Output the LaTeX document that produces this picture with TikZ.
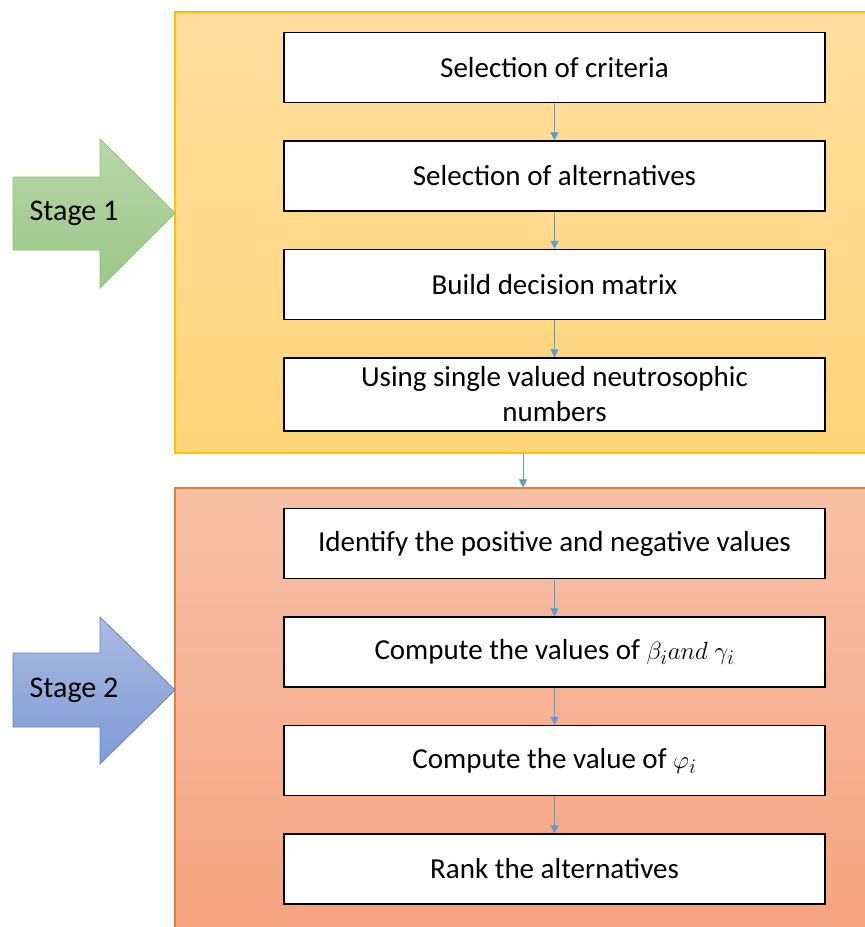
\documentclass[tikz,border=0pt]{standalone}
\usepackage{fontspec}
\setmainfont{Carlito}
\usepackage{tikz}
\usetikzlibrary{arrows.meta}
\usetikzlibrary{positioning}

\definecolor{linkblue}{RGB}{91,155,213}
\definecolor{goldline}{RGB}{255,192,0}
\definecolor{orangeline}{RGB}{237,125,49}

\tikzset{
	stepbox/.style={draw=black,line width=1.5pt,fill=white,minimum width=541pt,
		minimum height=70pt,inner xsep=4pt,inner ysep=0pt,align=center,
		font=\fontsize{29}{35}\selectfont},
	link/.style={draw=linkblue,line width=1pt,-{Triangle[length=8pt,width=8pt]}},
	panel/.style={line width=1.2pt,minimum width=696pt,inner sep=0pt},
	stagelabel/.style={font=\fontsize{30}{34}\selectfont}
}

\begin{document}
\begin{tikzpicture}[x=1pt,y=-1pt,node distance=37pt]
	\clip (0,0) rectangle (865,927);
	\fill[white] (0,0) rectangle (865,927);
	
	% the two stage panels
	\node[panel,draw=goldline,top color={rgb,255:red,255;green,222;blue,158},
		bottom color={rgb,255:red,255;green,213;blue,122},minimum height=441pt]
		(stageone) at (523,232.5) {};
	\node[panel,draw=orangeline,top color={rgb,255:red,247;green,192;blue,166},
		bottom color={rgb,255:red,245;green,164;blue,128},minimum height=440pt]
		(stagetwo) at (523,708) {};
	
	% stage arrows
	\shade[top color={rgb,255:red,183;green,215;blue,168},bottom color={rgb,255:red,155;green,199;blue,136},
		draw={rgb,255:red,140;green,195;blue,115},line width=0.8pt]
		(13,177) -- (100,177) -- (100,139) -- (175,213) -- (100,288) -- (100,250) -- (13,250) -- cycle;
	\node[stagelabel] (labelone) at (74,213) {Stage 1};
	
	\shade[top color={rgb,255:red,170;green,186;blue,226},bottom color={rgb,255:red,125;green,155;blue,214},
		draw={rgb,255:red,100;green,130;blue,200},line width=0.8pt]
		(13,653) -- (100,653) -- (100,617) -- (175,690) -- (100,764) -- (100,727) -- (13,727) -- cycle;
	\node[stagelabel] (labeltwo) at (74,690) {Stage 2};
	
	% stage 1 steps
	\node[stepbox] (criteria) at (554.5,67.5) {Selection of criteria};
	\node[stepbox,below=of criteria] (alternatives) {Selection of alternatives};
	\node[stepbox,below=of alternatives] (matrix) {Build decision matrix};
	\node[stepbox,below=of matrix,minimum height=73pt] (svn) {Using single valued neutrosophic\\numbers};
	
	% stage 2 steps
	\begin{scope}[every node/.append style={minimum height=72pt}]
	\node[stepbox] (identify) at (554.5,543.5) {Identify the positive and negative values};
	\node[stepbox,below=of identify] (betagamma) {Compute the values of $\beta_i and\ \gamma_i$};
	\node[stepbox,below=of betagamma] (phi) {Compute the value of $\varphi_i$};
	\node[stepbox,below=of phi] (rank) {Rank the alternatives};
	\end{scope}
	
	\draw[link] (criteria) -- (alternatives);
	\draw[link] (alternatives) -- (matrix);
	\draw[link] (matrix) -- (svn);
	\draw[link] (stageone) -- (stagetwo);
	\draw[link] (identify) -- (betagamma);
	\draw[link] (betagamma) -- (phi);
	\draw[link] (phi) -- (rank);
\end{tikzpicture}
\end{document}
